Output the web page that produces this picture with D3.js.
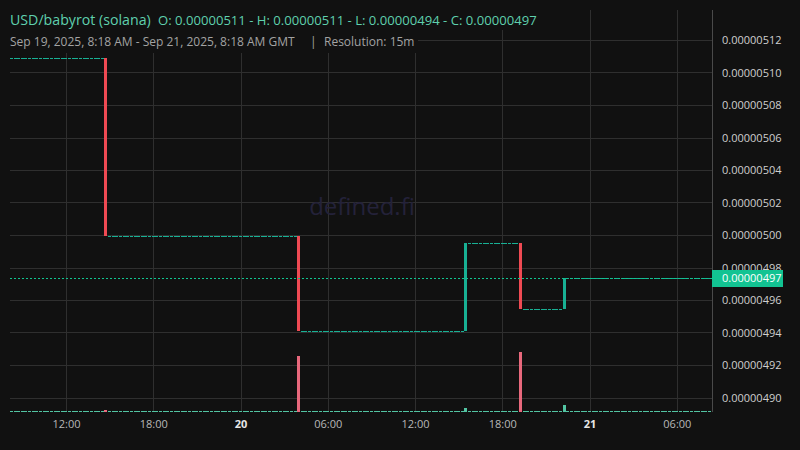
<!DOCTYPE html>
<html><head><meta charset="utf-8">
<script src="https://cdn.jsdelivr.net/npm/d3@7/dist/d3.min.js"></script>
<style>
html,body{margin:0;padding:0;background:#111111;}
svg{display:block;font-family:"Open Sans","Noto Sans",sans-serif;}
</style></head>
<body><svg id="chart" width="800" height="450"></svg>
<script>
// ---- data ----
const pair = "USD/babyrot (solana)";
const ohlcText = "O: 0.00000511 - H: 0.00000511 - L: 0.00000494 - C: 0.00000497";
const rangeText = "Sep 19, 2025, 8:18 AM - Sep 21, 2025, 8:18 AM GMT";
const resolutionText = "Resolution: 15m";
const firstBar = "2025-09-19T08:15:00Z";
const lastBar = "2025-09-21T08:15:00Z";
const openingPrice = 5.1089e-6;
// candles where the price moved (all other 15m bars are flat)
const moveTimes = ["2025-09-19T14:45:00Z","2025-09-20T04:00:00Z","2025-09-20T15:30:00Z","2025-09-20T19:15:00Z","2025-09-20T22:15:00Z"];
const moveOpen  = [5.1089e-6, 4.9994e-6, 4.9409e-6, 4.9949e-6, 4.9543e-6];
const moveClose = [4.9994e-6, 4.9409e-6, 4.9949e-6, 4.9543e-6, 4.9736e-6];
const moveVolume = [2.5, 56, 4, 60, 7];
const flatVolume = 1;
const lastPrice = 4.9736e-6;
const lastPriceLabel = "0.00000497";
const priceTicks = [4.90e-6,4.92e-6,4.94e-6,4.96e-6,4.98e-6,5.00e-6,5.02e-6,5.04e-6,5.06e-6,5.08e-6,5.10e-6,5.12e-6];
const timeTicks = ["2025-09-19T12:00:00Z","2025-09-19T18:00:00Z","2025-09-20T00:00:00Z","2025-09-20T06:00:00Z","2025-09-20T12:00:00Z","2025-09-20T18:00:00Z","2025-09-21T00:00:00Z","2025-09-21T06:00:00Z"];
const timeTickLabels = ["12:00","18:00","20","06:00","12:00","18:00","21","06:00"];
const dayTicks = ["20","21"];

// ---- build bars ----
const moveMap = new Map(moveTimes.map((t,i)=>[+new Date(t), i]));
const bars = [];
let prevClose = openingPrice;
for (let t = +new Date(firstBar); t <= +new Date(lastBar); t += 15*60*1000) {
  if (moveMap.has(t)) {
    const i = moveMap.get(t);
    bars.push({t:new Date(t), o:moveOpen[i], c:moveClose[i], v:moveVolume[i]});
    prevClose = moveClose[i];
  } else {
    bars.push({t:new Date(t), o:prevClose, c:prevClose, v:flatVolume});
  }
}

// ---- layout ----
const L = 10, R = 712, T = 10, B = 412;
const svg = d3.select("#chart");
svg.append("rect").attr("width",800).attr("height",450).attr("fill","#111111");

const x = d3.scaleUtc()
  .domain([new Date("2025-09-19T08:09:00Z"), new Date("2025-09-21T08:25:00Z")])
  .range([L, R]);
const y = d3.scaleLinear().domain([4.90e-6, 5.12e-6]).range([397.5, 40]);
const vy = d3.scaleLinear().domain([0, 60]).range([B, 352]);

const up = "#18b094", down = "#ef4a53";
const volUp = "#52c4a2", volDown = "#e8687c";
const bw = 3;

// grid
const grid = svg.append("g");
grid.selectAll("line.h").data(priceTicks).join("line")
  .attr("x1",L).attr("x2",R).attr("y1",d=>Math.round(y(d))+0.5).attr("y2",d=>Math.round(y(d))+0.5)
  .attr("stroke","#2f2f2f").attr("stroke-width",1);
grid.selectAll("line.v").data(timeTicks).join("line")
  .attr("y1",T).attr("y2",B).attr("x1",d=>Math.round(x(new Date(d)))+0.5).attr("x2",d=>Math.round(x(new Date(d)))+0.5)
  .attr("stroke","#2f2f2f").attr("stroke-width",1);

// watermark
svg.append("text").attr("x",362).attr("y",215).attr("text-anchor","middle")
  .attr("font-size",24).attr("fill","#24223a").text("defined.fi");

// volume
svg.append("g").attr("shape-rendering","crispEdges").selectAll("rect").data(bars).join("rect")
  .attr("x",d=>Math.round(x(d.t)-bw/2)).attr("width",bw)
  .attr("y",d=>Math.round(vy(d.v))).attr("height",d=>B - Math.round(vy(d.v)))
  .attr("fill",d=>d.c < d.o ? volDown : volUp);

// candles
svg.append("g").attr("shape-rendering","crispEdges").selectAll("rect").data(bars).join("rect")
  .attr("x",d=>Math.round(x(d.t)-bw/2)).attr("width",bw)
  .attr("y",d=>Math.round(Math.min(y(d.o),y(d.c))))
  .attr("height",d=>Math.max(1, Math.round(Math.abs(y(d.o)-y(d.c)))))
  .attr("fill",d=>d.c < d.o ? down : up);

// last price line
const ly = Math.round(y(lastPrice))+0.5;
svg.append("line").attr("x1",L).attr("x2",R).attr("y1",ly).attr("y2",ly)
  .attr("stroke","#10c48f").attr("stroke-width",1).attr("stroke-dasharray","2,2");

// right axis
const yAxis = d3.axisRight(y).tickValues(priceTicks).tickSize(0).tickPadding(10)
  .tickFormat(d=>d.toFixed(8));
const ya = svg.append("g").attr("transform",`translate(${R},0)`).call(yAxis);
ya.select(".domain").remove();
ya.selectAll("text").attr("fill","#cfcfcf").attr("font-size",11)
  .attr("font-family","'Open Sans','Noto Sans',sans-serif");
svg.append("line").attr("x1",R+0.5).attr("x2",R+0.5).attr("y1",T).attr("y2",B)
  .attr("stroke","#4a4a4a");

// price label
svg.append("rect").attr("x",R).attr("y",ly-8.5).attr("width",71).attr("height",17).attr("fill","#12c392");
svg.append("text").attr("x",R+10).attr("y",ly).attr("dy","0.35em")
  .attr("font-size",11).attr("fill","#ffffff").text(lastPriceLabel);

// bottom axis
const xAxis = d3.axisBottom(x).tickValues(timeTicks.map(d=>new Date(d))).tickSize(0).tickPadding(8)
  .tickFormat((d,i)=>timeTickLabels[i]);
const xa = svg.append("g").attr("transform",`translate(0,${B})`).call(xAxis);
xa.select(".domain").remove();
xa.selectAll("text").attr("font-size",11)
  .attr("font-family","'Open Sans','Noto Sans',sans-serif")
  .attr("fill",(d,i)=>dayTicks.includes(timeTickLabels[i]) ? "#e6e6e6" : "#b8b8b8")
  .attr("font-weight",(d,i)=>dayTicks.includes(timeTickLabels[i]) ? "bold" : "normal");

// legend
svg.append("rect").attr("x",0).attr("y",8).attr("width",535).attr("height",22).attr("fill","#111111");
svg.append("rect").attr("x",0).attr("y",30).attr("width",418).attr("height",23).attr("fill","#111111");
const t1 = svg.append("text").attr("x",10).attr("y",25).attr("fill","#5fd0ae");
t1.append("tspan").attr("font-size",14.2).text(pair);
t1.append("tspan").attr("font-size",13.1).attr("x",158).text(ohlcText);
const t2 = svg.append("text").attr("x",10).attr("y",46).attr("fill","#a3a3a3").attr("font-size",12);
t2.append("tspan").text(rangeText);
t2.append("tspan").attr("x",310).text("|");
t2.append("tspan").attr("x",324).text(resolutionText);
</script></body></html>
